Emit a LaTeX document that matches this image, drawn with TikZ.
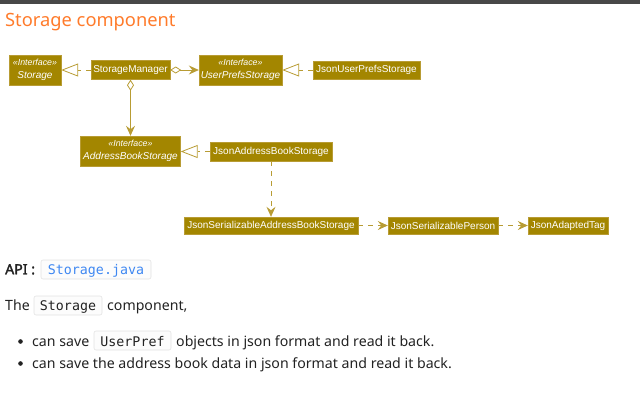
\documentclass[tikz,border=0pt]{standalone}
\usepackage{fontspec}
\setmainfont{Noto Sans}
\newfontfamily\apifont{Noto Sans}[FakeBold=2.2]
\newfontfamily\boxfont{Liberation Sans}
\newfontfamily\codefont{DejaVu Sans Mono}
\usetikzlibrary{arrows.meta}
\definecolor{boxfill}{HTML}{A38600}
\definecolor{umlline}{HTML}{B89C34}
\definecolor{titleorange}{HTML}{FF7B2B}
\definecolor{codeblue}{HTML}{3F88F2}
\definecolor{codeborder}{HTML}{E2E2E2}
\definecolor{codebg}{HTML}{FCFCFC}
\definecolor{topbar}{HTML}{484848}
\definecolor{bodytext}{HTML}{222222}
\begin{document}
\begin{tikzpicture}[x=1pt,y=-1pt,
  cls/.style={fill=boxfill, draw=umlline, line width=0.4pt, text=white, inner sep=0pt,
    font=\boxfont\fontsize{10}{11}\selectfont, anchor=center},
  iface/.style={cls, align=center, font=\boxfont\fontsize{10}{12.6}\selectfont},
  realize/.style={draw=umlline, line width=0.8pt, dash pattern=on 5pt off 5pt,
    -{Triangle[open, length=17pt, width=13pt, line width=0.8pt]}},
  depend/.style={draw=umlline, line width=0.8pt, dash pattern=on 5pt off 5pt,
    -{Stealth[length=10pt, width=9pt, inset=3.5pt]}},
  assoc/.style={draw=umlline, line width=0.8pt,
    {Diamond[open, length=11pt, width=7pt, line width=0.8pt]}-{Stealth[length=10pt, width=9pt, inset=3.5pt]}},
  txt/.style={anchor=base west, inner sep=0pt, text=bodytext, font=\fontsize{14.15}{16}\selectfont},
  codebox/.style={draw=codeborder, fill=codebg, rounded corners=2pt, line width=0.6pt},
  code/.style={anchor=base, inner sep=0pt, font=\codefont\fontsize{13.3}{15}\selectfont},
  bullet/.style={circle, fill=bodytext, inner sep=0pt, minimum size=4.6pt}
]
\useasboundingbox (0,0) rectangle (640,413);
\fill[topbar] (0,0) rectangle (640,3.5);

% title
\node[anchor=base west, inner sep=0pt, text=titleorange, font=\fontsize{18.3}{20}\selectfont] (title) at (5,26) {Storage component};

% classes
\node[iface, minimum width=52pt, minimum height=30pt] (st) at (35,70)
  {{\fontsize{8.8}{9}\selectfont\itshape «Interface»}\\\itshape Storage};
\node[cls, minimum width=79pt, minimum height=19pt] (sm) at (130.5,70) {StorageManager};
\node[iface, minimum width=83pt, minimum height=30pt] (ups) at (240.5,70)
  {{\fontsize{8.8}{9}\selectfont\itshape «Interface»}\\\itshape UserPrefsStorage};
\node[cls, minimum width=107pt, minimum height=18pt] (jups) at (366.5,70) {JsonUserPrefsStorage};
\node[iface, minimum width=100pt, minimum height=30pt] (abs) at (130.5,151)
  {{\fontsize{8.8}{9}\selectfont\itshape «Interface»}\\\itshape AddressBookStorage};
\node[cls, minimum width=122pt, minimum height=19pt] (jabs) at (271,151.5) {JsonAddressBookStorage};
\node[cls, minimum width=174pt, minimum height=17pt] (jsabs) at (271,225.5) {JsonSerializableAddressBookStorage};
\node[cls, minimum width=110pt, minimum height=17pt] (jsp) at (443,225.5) {JsonSerializablePerson};
\node[cls, minimum width=80pt, minimum height=17pt] (jat) at (568,225.5) {JsonAdaptedTag};

% connectors
\draw[realize] (sm.west) -- (st.east);
\draw[assoc] (sm.east) -- (ups.west);
\draw[realize] (jups.west) -- (ups.east);
\draw[assoc] (sm.south) -- (abs.north);
\draw[realize] (jabs.west) -- (abs.east |- jabs.west);
\draw[depend] (jabs.south) -- (jsabs.north);
\draw[depend] (jsabs.east) -- (jsp.west);
\draw[depend] (jsp.east) -- (jat.west);

% API line
\node[txt, font=\apifont\fontsize{14.15}{16}\selectfont] (api) at (5,274.3) {API :};
\draw[codebox] (41,260) rectangle (151,279);
\node[code, text=codeblue] (apicode) at (96,274.3) {Storage.java};

% The Storage component,
\node[txt] (the) at (5,310.3) {The};
\draw[codebox] (34,296) rectangle (102,315);
\node[code, text=bodytext] (thecode) at (68,310.3) {Storage};
\node[txt] (comp) at (107,310.3) {component,};

% bullets
\node[bullet] (b1) at (20.5,341.5) {};
\node[txt] (l1a) at (32,346) {can save};
\draw[codebox] (94,331) rectangle (171,350);
\node[code, text=bodytext] (l1code) at (132.5,346) {UserPref};
\node[txt] (l1b) at (176,346) {objects in json format and read it back.};

\node[bullet] (b2) at (20.5,363.5) {};
\node[txt] (l2) at (32,368) {can save the address book data in json format and read it back.};
\end{tikzpicture}
\end{document}
